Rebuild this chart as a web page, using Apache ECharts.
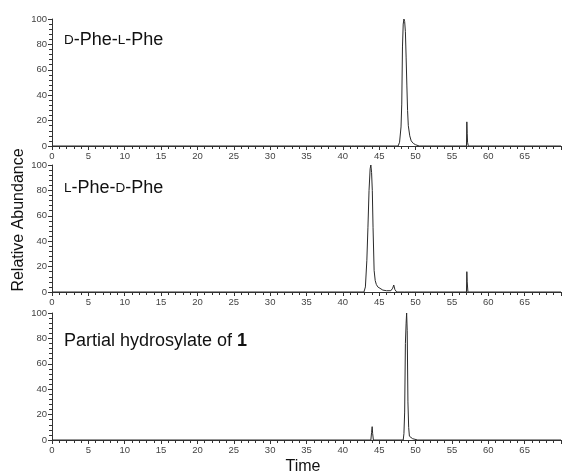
<!DOCTYPE html>
<html>
<head>
<meta charset="utf-8">
<script src="https://cdn.jsdelivr.net/npm/echarts@6/dist/echarts.min.js"></script>
<style>html,body{margin:0;padding:0;background:#fff}#c{width:564px;height:475px}</style>
</head>
<body>
<div id="c"></div>
<script>
// Panel 1: D-Phe-L-Phe
var time1 = [0, 41.2, 41.4, 41.6, 43.5, 43.7, 43.9, 47.6, 47.8, 48.0, 48.1, 48.2, 48.3, 48.4, 48.5, 48.6, 48.7, 48.8, 48.9, 49.0, 49.2, 49.4, 49.7, 50.0, 50.5, 57.0, 57.05, 57.1, 57.15, 57.25, 70];
var abund1 = [0, 0, 1, 0, 0, 1, 0, 0, 3, 15, 33, 78, 96, 100, 98, 90, 70, 48, 28, 16, 8, 4, 2, 1, 0, 0, 19, 10, 3, 0, 0];
// Panel 2: L-Phe-D-Phe
var time2 = [0, 42.9, 43.1, 43.3, 43.45, 43.6, 43.75, 43.85, 43.95, 44.05, 44.15, 44.3, 44.45, 44.6, 44.8, 45.0, 45.5, 46.0, 46.6, 46.85, 47.0, 47.15, 47.4, 48.5, 48.6, 48.7, 49.4, 49.5, 49.6, 57.0, 57.05, 57.1, 57.2, 70];
var abund2 = [0, 0, 4, 25, 51, 80, 97, 100, 94, 80, 51, 17, 9, 6, 4, 2.5, 1.5, 1, 1, 3, 5.5, 2, 0, 0, 0.8, 0, 0, 0.8, 0, 0, 16, 8, 0, 0];
// Panel 3: Partial hydrosylate of 1
var time3 = [0, 43.85, 43.95, 44.03, 44.1, 44.2, 48.3, 48.4, 48.5, 48.6, 48.7, 48.77, 48.85, 48.95, 49.05, 49.15, 49.3, 49.6, 50.3, 70];
var abund3 = [0, 0, 6, 10.5, 5, 0, 0, 5, 22, 76, 92, 100, 86, 30, 10, 3, 1.5, 1, 0, 0];

var xTicks = {min: 0, max: 70, interval: 5};
var yTicks = {min: 0, max: 100, interval: 20};

function zip(t, a) { return t.map(function (v, i) { return [v, a[i]]; }); }

var tops = [19, 165, 313];
var gridH = 127;
var grids = [], xAxes = [], yAxes = [], series = [];
var data = [zip(time1, abund1), zip(time2, abund2), zip(time3, abund3)];
for (var i = 0; i < 3; i++) {
  grids.push({left: 52, right: 0, top: tops[i], height: gridH});
  xAxes.push({
    type: 'value', gridIndex: i, min: xTicks.min, max: xTicks.max, interval: xTicks.interval,
    axisLine: {show: true, onZero: false, lineStyle: {color: '#333', width: 1}},
    axisTick: {show: true, inside: false, length: 4, lineStyle: {color: '#333'}},
    minorTick: {show: true, splitNumber: 5, length: 3, lineStyle: {color: '#333'}},
    splitLine: {show: false},
    axisLabel: {show: true, fontSize: 9.5, color: '#444', margin: 5, fontFamily: 'Liberation Sans',
      formatter: function (v) { return v >= 70 ? '' : v; }}
  });
  yAxes.push({
    type: 'value', gridIndex: i, min: yTicks.min, max: yTicks.max, interval: yTicks.interval,
    axisLine: {show: true, lineStyle: {color: '#333', width: 1}},
    axisTick: {show: true, inside: false, length: 4, lineStyle: {color: '#333'}},
    minorTick: {show: true, splitNumber: 5, length: 3, lineStyle: {color: '#333'}},
    splitLine: {show: false},
    axisLabel: {fontSize: 9.5, color: '#444', margin: 5, fontFamily: 'Liberation Sans'}
  });
  series.push({
    type: 'line', xAxisIndex: i, yAxisIndex: i, data: data[i], showSymbol: false, symbol: 'none',
    lineStyle: {color: '#2a2a2a', width: 1}, animation: false, silent: true, z: 3
  });
}

var titleStyle = {fontSize: 18, fontWeight: 'normal', color: '#111', fontFamily: 'Liberation Sans'};
var chart = echarts.init(document.getElementById('c'), null, {renderer: 'canvas'});
chart.setOption({
  animation: false,
  grid: grids, xAxis: xAxes, yAxis: yAxes, series: series,
  title: [
    {left: 64, top: 31, padding: 0, text: '{sc|D}-Phe-{sc|L}-Phe',
      textStyle: Object.assign({}, titleStyle, {rich: {sc: {fontSize: 13.5, color: '#111', fontFamily: 'Liberation Sans'}}})},
    {left: 64, top: 179, padding: 0, text: '{sc|L}-Phe-{sc|D}-Phe',
      textStyle: Object.assign({}, titleStyle, {rich: {sc: {fontSize: 13.5, color: '#111', fontFamily: 'Liberation Sans'}}})},
    {left: 64, top: 332, padding: 0, text: 'Partial hydrosylate of {b|1}',
      textStyle: Object.assign({}, titleStyle, {rich: {b: {fontSize: 18, fontWeight: 'bold', color: '#111', fontFamily: 'Liberation Sans'}}})}
  ],
  graphic: [
    {type: 'text', x: 19, y: 220, rotation: Math.PI / 2, style: {text: 'Relative Abundance', fontSize: 16,
      fontFamily: 'Liberation Sans', fill: '#111', align: 'center', verticalAlign: 'middle'}},
    {type: 'text', x: 303, y: 467, style: {text: 'Time', fontSize: 16,
      fontFamily: 'Liberation Sans', fill: '#111', align: 'center', verticalAlign: 'middle'}}
  ]
});
</script>
</body>
</html>
